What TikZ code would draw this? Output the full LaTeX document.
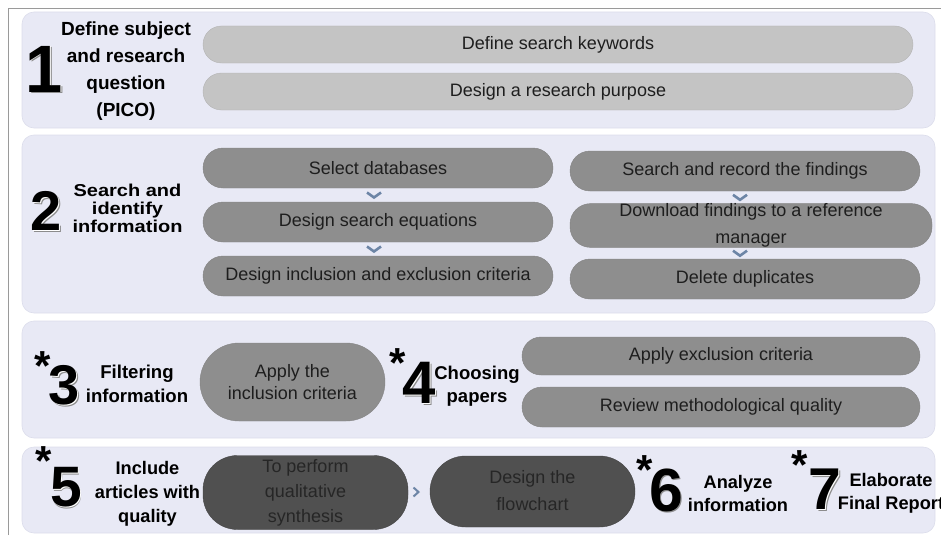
\documentclass[tikz,border=0pt]{standalone}
\usepackage{fontspec}
\setmainfont{Liberation Sans}
\usepackage{graphicx}
\usetikzlibrary{calc}
\definecolor{panelc}{HTML}{E8E9F5}
\definecolor{panelb}{HTML}{DCDDEB}
\definecolor{lightbar}{HTML}{C4C4C4}
\definecolor{midbar}{HTML}{8E8E8E}
\definecolor{darkbar}{HTML}{505050}
\definecolor{chevc}{HTML}{6D85A6}
\definecolor{framec}{HTML}{9A9A9A}
\definecolor{bartext}{HTML}{1E1E1E}
\definecolor{darktext}{HTML}{262626}
\tikzset{
  panel/.style={draw=panelb, line width=0.6pt, fill=panelc, rounded corners=12pt, inner sep=0pt},
  bar/.style={rectangle, inner sep=0pt, font=\fontsize{18}{22}\selectfont, align=center},
  lbar/.style={bar, fill=lightbar, draw=lightbar!92!black, line width=0.4pt, text=bartext},
  mbar/.style={bar, fill=midbar, draw=midbar!92!black, line width=0.4pt, text=bartext},
  dbar/.style={bar, fill=darkbar, draw=darkbar!85!black, line width=0.4pt, text=darktext},
  lbl/.style={inner sep=0pt, align=center, text=black},
  starmark/.style={inner sep=0pt, font=\bfseries\fontsize{42}{42}\selectfont},
  chev/.style={draw=chevc, line width=2.6pt, line join=miter},
}
\newcommand\NumMark[4]{%
  \node[inner sep=0pt, font=\bfseries\fontsize{#3}{#3}\selectfont, text=black!45, xshift=1.8pt, yshift=-1.8pt] at #2 {#4};
  \node[inner sep=0pt, font=\bfseries\fontsize{#3}{#3}\selectfont, text=white, xshift=0.9pt, yshift=-0.9pt] at #2 {#4};
  \node[inner sep=0pt, font=\bfseries\fontsize{#3}{#3}\selectfont, text=black] (#1) at #2 {#4};}
\begin{document}
\begin{tikzpicture}[x=1pt,y=-1pt]
\useasboundingbox (0,0) rectangle (941,535);
% frame
\coordinate (F1) at (8,535);
\coordinate (F2) at (8,9);
\coordinate (F3) at (941,9);
\draw[framec, line width=1pt] (F1) -- (F2) -- (F3);
% panels
\node[panel, minimum width=913pt, minimum height=116pt] (P1) at (478.5,70) {};
\node[panel, minimum width=913pt, minimum height=178pt] (P2) at (478.5,224) {};
\node[panel, minimum width=913pt, minimum height=117pt] (P3) at (478.5,379.5) {};
\node[panel, minimum width=913pt, minimum height=86pt] (P4) at (478.5,490) {};
% panel 1
\NumMark{n1}{(44,69)}{67}{1}
\node[lbl, font=\bfseries\fontsize{19}{27}\selectfont] (L1) at (126,71) {Define subject\\and research\\question\\(PICO)};
\node[lbar, minimum width=710pt, minimum height=37pt, rounded corners=18.5pt] (k1) at (558,44.5) {Define search keywords};
\node[lbar, minimum width=710pt, minimum height=37pt, rounded corners=18.5pt] (k2) at (558,91.5) {Design a research purpose};
% panel 2
\NumMark{n2}{(46,211)}{56}{2}
\node[lbl, font=\bfseries\fontsize{20}{20.5}\selectfont] (L2) at (127.5,211) {\scalebox{1}[0.86]{\begin{tabular}{@{}c@{}}Search and\\identify\\information\end{tabular}}};
\node[mbar, minimum width=350pt, minimum height=40pt, rounded corners=20pt] (s1) at (378,168) {Select databases};
\node[mbar, minimum width=350pt, minimum height=40pt, rounded corners=20pt] (s2) at (378,222) {Design search equations};
\node[mbar, minimum width=350pt, minimum height=40pt, rounded corners=20pt] (s3) at (378,276) {Design inclusion and exclusion criteria};
\node[mbar, minimum width=350pt, minimum height=40pt, rounded corners=20pt] (r1) at (745,171) {Search and record the findings};
\node[mbar, minimum width=362pt, minimum height=41pt, rounded corners=20.5pt, font=\fontsize{18}{27}\selectfont] (r2) at (751,225.5) {Download findings to a reference\\manager};
\node[mbar, minimum width=350pt, minimum height=40pt, rounded corners=20pt] (r3) at (745,279) {Delete duplicates};
\path (s1.south) -- coordinate[pos=0.5] (cv1) (s2.north);
\path (s2.south) -- coordinate[pos=0.5] (cv2) (s3.north);
\path (r1.south) -- coordinate[pos=0.5] (cv3) (r2.north);
\path (r2.south) -- coordinate[pos=0.5] (cv4) (r3.north);
\draw[chev] ([xshift=-4pt]cv1) ++(-7,-2.5) -- ++(7,5) -- ++(7,-5);
\draw[chev] ([xshift=-4pt]cv2) ++(-7,-2.5) -- ++(7,5) -- ++(7,-5);
\draw[chev] ([xshift=-8pt]cv3) ++(-7,-2.5) -- ++(7,5) -- ++(7,-5);
\draw[chev] ([xshift=-8pt]cv4) ++(-7,-2.5) -- ++(7,5) -- ++(7,-5);
% panel 3
\node[starmark] (st3) at (43,366) {*};
\NumMark{n3}{(64,385)}{56}{3}
\node[lbl, font=\bfseries\fontsize{18.6}{24}\selectfont] (L3) at (137,384) {Filtering\\information};
\node[mbar, minimum width=185pt, minimum height=78pt, rounded corners=39pt] (a1) at (292.5,382) {Apply the\\inclusion criteria};
\node[starmark] (st4) at (398,363) {*};
\NumMark{n4}{(419,383)}{60}{4}
\node[lbl, font=\bfseries\fontsize{18.5}{23}\selectfont] (L4) at (477,386.5) {Choosing\\papers};
\node[mbar, minimum width=398pt, minimum height=38pt, rounded corners=19pt] (e1) at (721,356) {Apply exclusion criteria};
\node[mbar, minimum width=398pt, minimum height=40pt, rounded corners=20pt] (e2) at (721,407) {Review methodological quality};
% panel 4
\node[starmark] (st5) at (44,461) {*};
\NumMark{n5}{(66,487)}{57}{5}
\node[lbl, font=\bfseries\fontsize{18.2}{24}\selectfont] (L5) at (147.5,493.5) {Include\\articles with\\quality};
\node[dbar, minimum width=205pt, minimum height=69pt, rounded corners=34.5pt, font=\fontsize{18}{24}\selectfont] (q1) at (305.5,492.5) {\raisebox{-2pt}{\begin{tabular}{@{}c@{}}\color{darktext}To perform\\[1pt]\color{darktext}qualitative\\[1pt]\color{darktext}synthesis\end{tabular}}};
\node[dbar, minimum width=205pt, minimum height=71pt, rounded corners=35.5pt, font=\fontsize{18}{25}\selectfont] (q2) at (532.5,491.5) {\raisebox{-2pt}{\begin{tabular}{@{}c@{}}\color{darktext}Design the\\[2pt]\color{darktext}flowchart\end{tabular}}};
\path (q1.east) -- coordinate[pos=0.5] (cv5) (q2.west);
\draw[chev, line width=2pt] ([xshift=-3pt]cv5) ++(-2.5,-4.5) -- ++(5,4.5) -- ++(-5,4.5);
\node[starmark] (st6) at (645,470) {*};
\NumMark{n6}{(666,490)}{61}{6}
\node[lbl, font=\bfseries\fontsize{18.2}{23.5}\selectfont] (L6) at (738,493.5) {Analyze\\information};
\node[starmark] (st7) at (800,465) {*};
\NumMark{n7}{(825,489)}{59}{7}
\node[lbl, font=\bfseries\fontsize{18.2}{23.5}\selectfont] (L7) at (891,493.5) {Elaborate\\Final Report};
\end{tikzpicture}
\end{document}
